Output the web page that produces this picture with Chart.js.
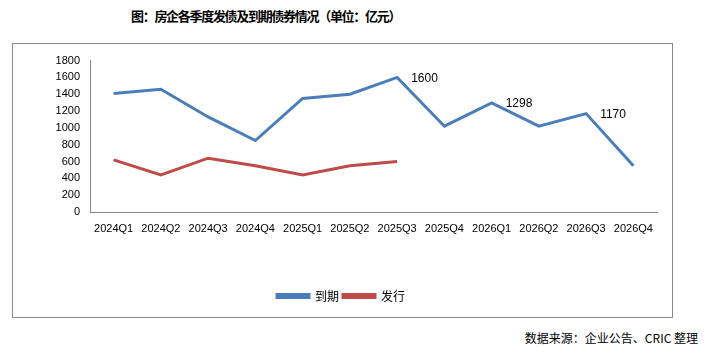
<!DOCTYPE html>
<html>
<head>
<meta charset="utf-8">
<script src="https://cdn.jsdelivr.net/npm/chart.js@4.4.0/dist/chart.umd.min.js"></script>
<style>
    body { margin: 0; background: #fff; width: 710px; height: 353px; position: relative; overflow: hidden; }
    #title { position: absolute; left: 131px; top: 6px; font: bold 13px "Noto Sans CJK SC"; letter-spacing: -1.3px; color: #000; white-space: nowrap; }
    #box { position: absolute; left: 12px; top: 43px; width: 659px; height: 273px; border: 1px solid #888; }
    #source { position: absolute; right: 12px; top: 329px; font: 12px "Noto Sans CJK SC"; color: #000; white-space: nowrap; }
</style>
</head>
<body>
<div id="title">图：房企各季度发债及到期债券情况（单位：亿元）</div>
<div id="box"><canvas id="lineChart" width="659" height="273"></canvas></div>
<div id="source">数据来源：企业公告、CRIC 整理</div>
<script>
// quarters on the x axis
var quarters = ["2024Q1", "2024Q2", "2024Q3", "2024Q4", "2025Q1", "2025Q2",
    "2025Q3", "2025Q4", "2026Q1", "2026Q2", "2026Q3", "2026Q4"];
// 到期 (maturing) and 发行 (issued), 亿元
var maturity = [1410, 1460, 1130, 850, 1350, 1400, 1600, 1020, 1298, 1020, 1170, 550];
var issued = [620, 440, 640, 550, 440, 550, 600, null, null, null, null, null];
// values printed next to the blue line
var labelIndex = [6, 8, 10];
var yTicks = [0, 200, 400, 600, 800, 1000, 1200, 1400, 1600, 1800];

var tickFont = { family: "Liberation Sans", size: 11 };

// draws the few value labels on the maturity line
var valueLabels = {
    id: 'valueLabels',
    afterDatasetsDraw: function(chart) {
        var ctx = chart.ctx;
        var meta = chart.getDatasetMeta(0);
        ctx.save();
        ctx.font = '12px "Liberation Sans"';
        ctx.fillStyle = '#000';
        ctx.textAlign = 'left';
        ctx.textBaseline = 'middle';
        labelIndex.forEach(function(i) {
            var pt = meta.data[i];
            ctx.fillText(String(maturity[i]), pt.x + 14, pt.y + 1);
        });
        ctx.restore();
    }
};

var chart = new Chart(document.getElementById('lineChart'), {
    type: 'line',
    data: {
        labels: quarters,
        datasets: [
            {
                label: '到期',
                data: maturity,
                borderColor: '#4A7EBB',
                backgroundColor: '#4A7EBB',
                borderWidth: 3,
                pointRadius: 0,
                tension: 0
            },
            {
                label: '发行',
                data: issued,
                borderColor: '#BE4B48',
                backgroundColor: '#BE4B48',
                borderWidth: 3,
                pointRadius: 0,
                tension: 0,
                spanGaps: false
            }
        ]
    },
    options: {
        responsive: false,
        animation: false,
        layout: { padding: { top: 16, right: 15, bottom: 5, left: 12 } },
        plugins: {
            legend: {
                position: 'bottom',
                labels: {
                    boxWidth: 32,
                    boxHeight: 3,
                    padding: 4,
                    color: '#000',
                    font: { family: "Noto Sans CJK SC", size: 12 }
                }
            },
            tooltip: { enabled: false }
        },
        scales: {
            x: {
                offset: true,
                grid: { display: false, drawTicks: false },
                border: { display: true, color: '#888', width: 1 },
                ticks: { color: '#000', font: tickFont, padding: 10, maxRotation: 0, autoSkip: false },
                afterFit: function(scale) { scale.height = 74; }
            },
            y: {
                min: 0,
                max: 1800,
                grid: { display: false, drawTicks: false },
                border: { display: true, color: '#888', width: 1 },
                afterBuildTicks: function(scale) {
                    scale.ticks = yTicks.map(function(v) { return { value: v }; });
                },
                ticks: {
                    color: '#000',
                    font: tickFont,
                    padding: 10,
                    autoSkip: false,
                    callback: function(value) { return String(value); }
                },
                afterFit: function(scale) { scale.width = 65; }
            }
        }
    },
    plugins: [valueLabels]
});
</script>
</body>
</html>
